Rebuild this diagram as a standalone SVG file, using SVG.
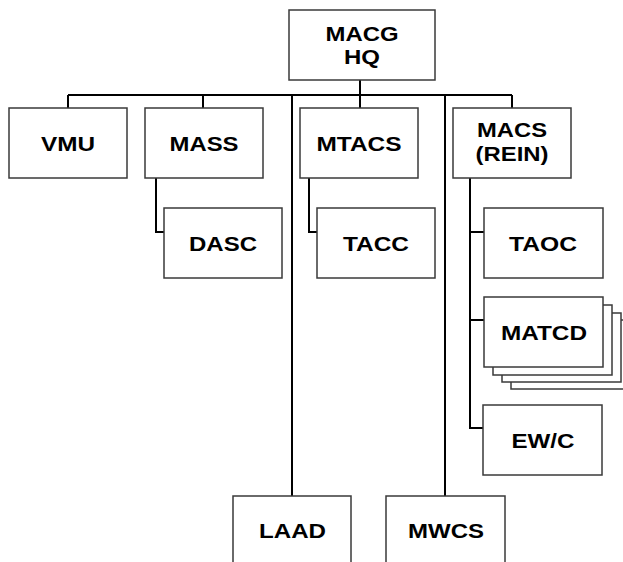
<svg xmlns="http://www.w3.org/2000/svg" width="623" height="562" viewBox="0 0 623 562">
<style>
.box{fill:#fff;stroke:#3a3a3a;stroke-width:1.5}
.lbl{font-family:"Liberation Sans",Arial,sans-serif;font-weight:bold;font-size:21px;fill:#000;text-anchor:middle}
.conn{fill:none;stroke:#000;stroke-width:2}
</style>
<rect width="623" height="562" fill="#fff"/>
<g id="connectors" class="conn">
<path d="M360 80V95M68 95H512M68 95V108M203 95V108M360 95V108M512 95V108"/>
<path d="M292 95V496M445 95V496"/>
<path d="M156 178V232H164"/>
<path d="M309 178V232H317"/>
<path d="M470 178V428H483M470 232H484M470 320H484"/>
</g>
<g id="macg-hq"><rect class="box" x="289" y="10" width="146" height="70"/><text class="lbl" x="362" y="41" textLength="73" lengthAdjust="spacingAndGlyphs">MACG</text><text class="lbl" x="362" y="63.5" textLength="36" lengthAdjust="spacingAndGlyphs">HQ</text></g>
<g id="vmu"><rect class="box" x="9" y="108" width="118" height="70"/><text class="lbl" x="68" y="151" textLength="54" lengthAdjust="spacingAndGlyphs">VMU</text></g>
<g id="mass"><rect class="box" x="145" y="108" width="118" height="70"/><text class="lbl" x="204" y="151" textLength="69" lengthAdjust="spacingAndGlyphs">MASS</text></g>
<g id="mtacs"><rect class="box" x="300" y="108" width="118" height="70"/><text class="lbl" x="359" y="151" textLength="85" lengthAdjust="spacingAndGlyphs">MTACS</text></g>
<g id="macs"><rect class="box" x="453" y="108" width="118" height="70"/><text class="lbl" x="512" y="137" textLength="70" lengthAdjust="spacingAndGlyphs">MACS</text><text class="lbl" x="512" y="160.5" textLength="73" lengthAdjust="spacingAndGlyphs">(REIN)</text></g>
<g id="dasc"><rect class="box" x="164" y="208" width="118" height="70"/><text class="lbl" x="223" y="251" textLength="68" lengthAdjust="spacingAndGlyphs">DASC</text></g>
<g id="tacc"><rect class="box" x="317" y="208" width="118" height="70"/><text class="lbl" x="376" y="251" textLength="66" lengthAdjust="spacingAndGlyphs">TACC</text></g>
<g id="taoc"><rect class="box" x="484" y="208" width="119" height="70"/><text class="lbl" x="543" y="251" textLength="68" lengthAdjust="spacingAndGlyphs">TAOC</text></g>
<g id="matcd">
<rect class="box" x="511" y="320" width="119" height="69"/>
<rect class="box" x="502" y="313" width="119" height="69"/>
<rect class="box" x="493" y="305" width="119" height="70"/>
<rect class="box" x="484" y="297" width="119" height="70"/>
<text class="lbl" x="544" y="340" textLength="86" lengthAdjust="spacingAndGlyphs">MATCD</text></g>
<g id="ewc"><rect class="box" x="483" y="405" width="119" height="70"/><text class="lbl" x="543" y="448" textLength="63" lengthAdjust="spacingAndGlyphs">EW/C</text></g>
<g id="laad"><rect class="box" x="233" y="496" width="118" height="72"/><text class="lbl" x="292.5" y="538" textLength="67" lengthAdjust="spacingAndGlyphs">LAAD</text></g>
<g id="mwcs"><rect class="box" x="386" y="496" width="119" height="72"/><text class="lbl" x="446" y="538" textLength="76" lengthAdjust="spacingAndGlyphs">MWCS</text></g>
</svg>
